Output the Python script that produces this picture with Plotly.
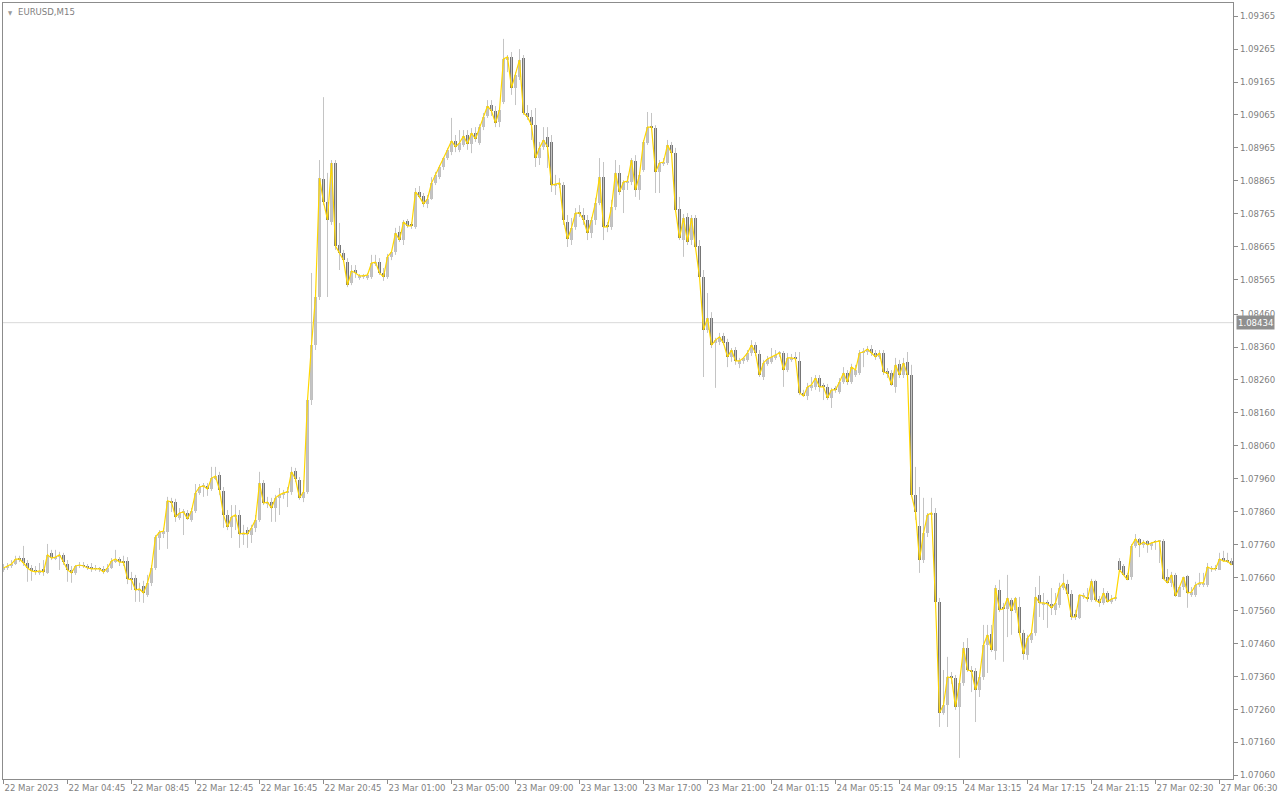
import plotly.graph_objects as go

# ---------------- data (EURUSD M15 candles) ----------------
opens = [
1.07683,1.07689,1.07695,1.07701,1.07716,1.07719,1.07704,1.07689,1.07680,1.07674,
1.07686,1.07674,1.07735,1.07719,1.07722,1.07729,1.07701,1.07683,1.07674,1.07695,
1.07698,1.07695,1.07692,1.07686,1.07686,1.07686,1.07677,1.07689,1.07710,1.07716,
1.07707,1.07710,1.07656,1.07659,1.07622,1.07634,1.07607,1.07644,1.07689,1.07780,
1.07795,1.07798,1.07889,1.07889,1.07841,1.07856,1.07856,1.07835,1.07862,1.07917,
1.07935,1.07938,1.07929,1.07962,1.07971,1.07923,1.07850,1.07813,1.07844,1.07850,
1.07792,1.07804,1.07789,1.07811,1.07835,1.07947,1.07886,1.07889,1.07871,1.07902,
1.07911,1.07917,1.07920,1.07984,1.07956,1.07902,1.07920,1.08199,1.08366,1.08512,
1.08870,1.08801,1.08740,1.08919,1.08670,1.08646,1.08618,1.08555,1.08594,1.08570,
1.08573,1.08570,1.08573,1.08615,1.08618,1.08585,1.08573,1.08634,1.08649,1.08709,
1.08685,1.08743,1.08728,1.08725,1.08831,1.08819,1.08795,1.08810,1.08858,1.08876,
1.08907,1.08934,1.08952,1.08986,1.08959,1.08974,1.09004,1.08977,1.09010,1.08980,
1.09028,1.09062,1.09095,1.09077,1.09043,1.09104,1.09232,1.09241,1.09147,1.09180,
1.09238,1.09071,1.09059,1.09034,1.08934,1.08968,1.08998,1.08983,1.08852,1.08855,
1.08852,1.08740,1.08685,1.08725,1.08767,1.08761,1.08746,1.08706,1.08746,1.08798,
1.08876,1.08725,1.08725,1.08785,1.08889,1.08837,1.08861,1.08861,1.08925,1.08837,
1.08898,1.08980,1.09028,1.09025,1.08892,1.08919,1.08919,1.08974,1.08949,1.08779,
1.08685,1.08755,1.08685,1.08752,1.08667,1.08573,1.08412,1.08448,1.08372,1.08375,
1.08394,1.08375,1.08330,1.08351,1.08309,1.08318,1.08321,1.08342,1.08366,1.08339,
1.08269,1.08309,1.08315,1.08327,1.08339,1.08342,1.08290,1.08321,1.08327,1.08318,
1.08221,1.08211,1.08236,1.08239,1.08266,1.08239,1.08239,1.08205,1.08230,1.08224,
1.08254,1.08281,1.08254,1.08275,1.08281,1.08342,1.08345,1.08354,1.08342,1.08330,
1.08342,1.08287,1.08281,1.08239,1.08309,1.08275,1.08315,1.08275,1.07911,1.07817,
1.07713,1.07795,1.07850,1.07856,1.07586,1.07249,1.07273,1.07358,1.07355,1.07267,
1.07340,1.07446,1.07379,1.07376,1.07319,1.07358,1.07455,1.07489,1.07437,1.07622,
1.07565,1.07565,1.07592,1.07562,1.07571,1.07492,1.07425,1.07470,1.07492,1.07607,
1.07577,1.07580,1.07580,1.07562,1.07577,1.07628,1.07641,1.07610,1.07549,1.07537,
1.07601,1.07595,1.07592,1.07650,1.07595,1.07583,1.07613,1.07586,1.07595,1.07710,
1.07695,1.07668,1.07662,1.07756,1.07777,1.07759,1.07771,1.07756,1.07768,1.07768,
1.07771,1.07662,1.07644,1.07668,1.07601,1.07631,1.07665,1.07607,1.07607,1.07637,
1.07637,1.07637,1.07686,1.07686,1.07683,1.07719,1.07710,1.07710]

highs = [
1.07701,1.07704,1.07713,1.07726,1.07726,1.07756,1.07713,1.07698,1.07695,1.07704,
1.07713,1.07762,1.07744,1.07744,1.07738,1.07735,1.07713,1.07695,1.07698,1.07707,
1.07707,1.07701,1.07704,1.07698,1.07692,1.07695,1.07701,1.07719,1.07744,1.07722,
1.07726,1.07722,1.07677,1.07668,1.07644,1.07650,1.07668,1.07698,1.07789,1.07804,
1.07811,1.07905,1.07902,1.07899,1.07871,1.07868,1.07865,1.07871,1.07944,1.07944,
1.07947,1.07947,1.07996,1.07996,1.07981,1.07935,1.07865,1.07880,1.07880,1.07865,
1.07820,1.07813,1.07820,1.07850,1.07981,1.07956,1.07905,1.07902,1.07911,1.07932,
1.07926,1.07935,1.07996,1.07993,1.07965,1.07956,1.08205,1.08585,1.08533,1.08928,
1.09119,1.08889,1.08928,1.08928,1.08737,1.08655,1.08630,1.08609,1.08609,1.08582,
1.08582,1.08585,1.08640,1.08640,1.08630,1.08600,1.08643,1.08652,1.08722,1.08728,
1.08746,1.08749,1.08740,1.08843,1.08849,1.08828,1.08822,1.08876,1.08892,1.08913,
1.08937,1.08965,1.09056,1.09004,1.09019,1.09019,1.09019,1.09025,1.09028,1.09037,
1.09071,1.09110,1.09110,1.09092,1.09086,1.09296,1.09247,1.09256,1.09195,1.09265,
1.09247,1.09095,1.09080,1.09086,1.08983,1.09028,1.09028,1.09004,1.08883,1.08873,
1.08861,1.08761,1.08752,1.08782,1.08791,1.08782,1.08761,1.08755,1.08813,1.08934,
1.08922,1.08740,1.08807,1.08928,1.08913,1.08867,1.08880,1.08934,1.08943,1.08892,
1.08989,1.09074,1.09071,1.09034,1.08928,1.08934,1.08989,1.08983,1.08965,1.08816,
1.08764,1.08767,1.08761,1.08761,1.08685,1.08594,1.08524,1.08466,1.08388,1.08403,
1.08403,1.08385,1.08357,1.08360,1.08327,1.08330,1.08351,1.08381,1.08375,1.08351,
1.08321,1.08333,1.08357,1.08351,1.08348,1.08348,1.08342,1.08339,1.08345,1.08345,
1.08230,1.08251,1.08269,1.08275,1.08275,1.08251,1.08248,1.08236,1.08242,1.08266,
1.08299,1.08290,1.08309,1.08306,1.08351,1.08357,1.08363,1.08366,1.08351,1.08351,
1.08351,1.08296,1.08290,1.08327,1.08321,1.08327,1.08345,1.08306,1.07996,1.07935,
1.07902,1.07856,1.07902,1.07871,1.07598,1.07379,1.07419,1.07373,1.07364,1.07340,
1.07464,1.07476,1.07391,1.07385,1.07364,1.07516,1.07516,1.07516,1.07637,1.07653,
1.07583,1.07668,1.07598,1.07601,1.07601,1.07501,1.07486,1.07501,1.07631,1.07665,
1.07613,1.07592,1.07628,1.07613,1.07644,1.07671,1.07653,1.07622,1.07562,1.07607,
1.07613,1.07628,1.07656,1.07653,1.07604,1.07628,1.07619,1.07607,1.07601,1.07719,
1.07701,1.07674,1.07762,1.07792,1.07780,1.07774,1.07774,1.07768,1.07774,1.07771,
1.07777,1.07686,1.07677,1.07674,1.07631,1.07662,1.07668,1.07631,1.07647,1.07674,
1.07674,1.07704,1.07695,1.07698,1.07735,1.07741,1.07735,1.07719]

lows = [
1.07677,1.07683,1.07689,1.07698,1.07707,1.07695,1.07647,1.07650,1.07668,1.07668,
1.07665,1.07671,1.07713,1.07713,1.07683,1.07698,1.07647,1.07644,1.07668,1.07689,
1.07689,1.07683,1.07677,1.07680,1.07677,1.07671,1.07674,1.07686,1.07704,1.07695,
1.07695,1.07640,1.07622,1.07586,1.07586,1.07583,1.07601,1.07634,1.07683,1.07744,
1.07780,1.07747,1.07859,1.07829,1.07835,1.07789,1.07835,1.07829,1.07856,1.07911,
1.07905,1.07908,1.07923,1.07956,1.07911,1.07811,1.07804,1.07780,1.07804,1.07750,
1.07759,1.07750,1.07765,1.07798,1.07829,1.07880,1.07871,1.07829,1.07829,1.07850,
1.07899,1.07874,1.07911,1.07950,1.07896,1.07889,1.07914,1.08184,1.08351,1.08503,
1.08791,1.08512,1.08731,1.08655,1.08594,1.08618,1.08542,1.08548,1.08570,1.08564,
1.08567,1.08564,1.08567,1.08606,1.08579,1.08561,1.08567,1.08624,1.08640,1.08679,
1.08670,1.08722,1.08719,1.08719,1.08813,1.08785,1.08782,1.08807,1.08852,1.08870,
1.08898,1.08928,1.08943,1.08952,1.08952,1.08968,1.08959,1.08949,1.08983,1.08974,
1.09019,1.09056,1.09062,1.09028,1.09028,1.09098,1.09195,1.09126,1.09095,1.09171,
1.09065,1.09050,1.08989,1.08907,1.08913,1.08959,1.08904,1.08831,1.08822,1.08843,
1.08731,1.08664,1.08670,1.08716,1.08755,1.08731,1.08685,1.08691,1.08731,1.08791,
1.08685,1.08709,1.08716,1.08776,1.08822,1.08767,1.08837,1.08852,1.08816,1.08807,
1.08892,1.08974,1.09019,1.08828,1.08828,1.08910,1.08913,1.08943,1.08770,1.08685,
1.08634,1.08670,1.08670,1.08658,1.08570,1.08269,1.08403,1.08357,1.08236,1.08366,
1.08366,1.08299,1.08315,1.08306,1.08296,1.08309,1.08315,1.08333,1.08333,1.08269,
1.08260,1.08303,1.08309,1.08321,1.08330,1.08239,1.08284,1.08315,1.08318,1.08214,
1.08211,1.08199,1.08227,1.08230,1.08224,1.08199,1.08199,1.08175,1.08221,1.08218,
1.08248,1.08245,1.08248,1.08269,1.08275,1.08299,1.08336,1.08333,1.08321,1.08324,
1.08275,1.08266,1.08242,1.08221,1.08266,1.08266,1.08266,1.07905,1.07835,1.07674,
1.07704,1.07783,1.07835,1.07577,1.07206,1.07243,1.07206,1.07337,1.07258,1.07112,
1.07331,1.07373,1.07312,1.07221,1.07297,1.07349,1.07370,1.07434,1.07410,1.07555,
1.07404,1.07479,1.07486,1.07552,1.07486,1.07410,1.07410,1.07461,1.07483,1.07540,
1.07531,1.07507,1.07546,1.07546,1.07568,1.07622,1.07604,1.07531,1.07531,1.07534,
1.07595,1.07586,1.07586,1.07586,1.07571,1.07577,1.07586,1.07580,1.07589,1.07683,
1.07668,1.07653,1.07653,1.07750,1.07722,1.07750,1.07735,1.07744,1.07744,1.07704,
1.07656,1.07644,1.07631,1.07601,1.07601,1.07622,1.07568,1.07601,1.07601,1.07631,
1.07631,1.07631,1.07677,1.07680,1.07683,1.07707,1.07704,1.07698]

closes = [
1.07689,1.07695,1.07701,1.07716,1.07716,1.07704,1.07689,1.07680,1.07677,1.07680,
1.07677,1.07729,1.07719,1.07722,1.07729,1.07707,1.07683,1.07674,1.07695,1.07698,
1.07695,1.07689,1.07686,1.07686,1.07686,1.07677,1.07689,1.07710,1.07716,1.07707,
1.07707,1.07656,1.07653,1.07622,1.07625,1.07613,1.07644,1.07689,1.07783,1.07798,
1.07801,1.07893,1.07889,1.07844,1.07856,1.07859,1.07838,1.07862,1.07917,1.07935,
1.07938,1.07929,1.07962,1.07968,1.07926,1.07850,1.07813,1.07844,1.07850,1.07792,
1.07795,1.07792,1.07811,1.07835,1.07947,1.07886,1.07889,1.07871,1.07902,1.07911,
1.07917,1.07920,1.07981,1.07959,1.07902,1.07920,1.08199,1.08366,1.08512,1.08873,
1.08801,1.08746,1.08919,1.08667,1.08646,1.08624,1.08548,1.08591,1.08585,1.08576,
1.08576,1.08579,1.08615,1.08618,1.08585,1.08573,1.08634,1.08649,1.08706,1.08685,
1.08740,1.08728,1.08728,1.08831,1.08816,1.08795,1.08810,1.08858,1.08883,1.08907,
1.08934,1.08959,1.08986,1.08968,1.08980,1.09001,1.08977,1.09010,1.08992,1.09028,
1.09059,1.09092,1.09077,1.09040,1.09080,1.09235,1.09241,1.09147,1.09186,1.09232,
1.09071,1.09059,1.09034,1.08934,1.08965,1.08989,1.08968,1.08852,1.08855,1.08858,
1.08746,1.08688,1.08722,1.08767,1.08767,1.08746,1.08706,1.08746,1.08798,1.08876,
1.08725,1.08725,1.08785,1.08889,1.08831,1.08861,1.08864,1.08928,1.08837,1.08883,
1.08983,1.09028,1.09028,1.08892,1.08919,1.08922,1.08974,1.08949,1.08776,1.08691,
1.08752,1.08679,1.08752,1.08664,1.08573,1.08412,1.08448,1.08366,1.08381,1.08391,
1.08372,1.08330,1.08351,1.08318,1.08318,1.08327,1.08342,1.08366,1.08342,1.08275,
1.08312,1.08324,1.08330,1.08336,1.08342,1.08290,1.08327,1.08327,1.08324,1.08221,
1.08211,1.08239,1.08245,1.08266,1.08239,1.08239,1.08205,1.08230,1.08230,1.08254,
1.08281,1.08254,1.08299,1.08290,1.08342,1.08345,1.08354,1.08342,1.08330,1.08342,
1.08284,1.08281,1.08245,1.08306,1.08275,1.08312,1.08275,1.07911,1.07859,1.07713,
1.07795,1.07850,1.07856,1.07586,1.07249,1.07273,1.07358,1.07355,1.07267,1.07340,
1.07446,1.07379,1.07376,1.07319,1.07358,1.07455,1.07486,1.07440,1.07628,1.07562,
1.07565,1.07598,1.07559,1.07598,1.07492,1.07428,1.07476,1.07492,1.07601,1.07583,
1.07583,1.07580,1.07568,1.07583,1.07628,1.07644,1.07610,1.07540,1.07540,1.07607,
1.07604,1.07595,1.07650,1.07592,1.07583,1.07613,1.07586,1.07595,1.07598,1.07683,
1.07668,1.07653,1.07756,1.07777,1.07759,1.07768,1.07759,1.07765,1.07768,1.07771,
1.07656,1.07644,1.07668,1.07604,1.07631,1.07662,1.07613,1.07616,1.07637,1.07644,
1.07644,1.07692,1.07686,1.07686,1.07716,1.07710,1.07710,1.07698]

time_labels = ["22 Mar 2023", "22 Mar 04:45", "22 Mar 08:45", "22 Mar 12:45",
               "22 Mar 16:45", "22 Mar 20:45", "23 Mar 01:00", "23 Mar 05:00",
               "23 Mar 09:00", "23 Mar 13:00", "23 Mar 17:00", "23 Mar 21:00",
               "24 Mar 01:15", "24 Mar 05:15", "24 Mar 09:15", "24 Mar 13:15",
               "24 Mar 17:15", "24 Mar 21:15", "27 Mar 02:30", "27 Mar 06:30"]
time_label_bars = [0, 16, 32, 48, 64, 80, 96, 112, 128, 144, 160, 176,
                   192, 208, 224, 240, 256, 272, 288, 304]

price_labels = ["1.09365", "1.09265", "1.09165", "1.09065", "1.08965", "1.08865",
                "1.08765", "1.08665", "1.08565", "1.08460", "1.08360", "1.08260",
                "1.08160", "1.08060", "1.07960", "1.07860", "1.07760", "1.07660",
                "1.07560", "1.07460", "1.07360", "1.07260", "1.07160", "1.07060"]

price_line = 1.08434
symbol_text = "EURUSD,M15"

# ---------------- styling ----------------
FONT = "DejaVu Sans Condensed, Liberation Sans, sans-serif"
TXT = "#7f7f7f"
AXIS = "#8c8c8c"
BULL = "#c0c0c0"
BEAR = "#767676"
WICK = "#c4c4c4"
LINE = "#ffd700"

n = len(closes)
idx = list(range(n))

wx, wy = [], []
for i in idx:
    hi = max(highs[i], opens[i], closes[i])
    lo = min(lows[i], opens[i], closes[i])
    wx += [i, i, None]
    wy += [lo, hi, None]

base = [min(o, c) for o, c in zip(opens, closes)]
height = [max(abs(c - o), 0.000028) for o, c in zip(opens, closes)]
colors = [BULL if c > o else BEAR for o, c in zip(opens, closes)]

fig = go.Figure()
fig.add_trace(go.Scatter(x=wx, y=wy, mode="lines",
                         line=dict(color=WICK, width=1),
                         hoverinfo="skip", showlegend=False))
fig.add_trace(go.Bar(x=idx, y=height, base=base, width=0.75,
                     marker=dict(color=colors, line=dict(width=0)),
                     hoverinfo="skip", showlegend=False))
fig.add_trace(go.Scatter(x=idx, y=closes, mode="lines",
                         line=dict(color=LINE, width=1.2),
                         hoverinfo="skip", showlegend=False))

fig.add_shape(type="line", xref="paper", x0=0, x1=1, yref="y",
              y0=price_line, y1=price_line,
              line=dict(color="#d9d9d9", width=1), layer="below")

fig.add_annotation(xref="paper", x=1, xanchor="left", xshift=3,
                   yref="y", y=price_line, yanchor="middle",
                   text=f"{price_line:.5f}", showarrow=False,
                   bgcolor="#8f8f8f", borderpad=1,
                   font=dict(family=FONT, size=9.5, color="#ffffff"))

fig.add_annotation(xref="paper", yref="paper", x=0, y=1, xanchor="left",
                   yanchor="top", xshift=3, yshift=-4, text="▼",
                   showarrow=False, font=dict(family=FONT, size=6, color="#9a9a9a"))
fig.add_annotation(xref="paper", yref="paper", x=0, y=1, xanchor="left",
                   yanchor="top", xshift=13, yshift=-1, text=symbol_text,
                   showarrow=False, font=dict(family=FONT, size=9.5, color=TXT))

fig.update_layout(
    width=1280, height=800,
    margin=dict(l=3, r=47, t=3, b=21, autoexpand=False),
    paper_bgcolor="white", plot_bgcolor="white",
    barmode="overlay", bargap=0, showlegend=False,
    hovermode=False,
    font=dict(family=FONT, size=9.5, color=TXT),
    xaxis=dict(range=[-0.125, 307.375], tickmode="array",
               tickvals=time_label_bars, ticktext=time_labels,
               tickangle=0, automargin=False,
               ticks="outside", ticklen=4, tickcolor=AXIS,
               ticklabelposition="outside right", ticklabeloverflow="allow",
               showline=True, linecolor=AXIS, linewidth=1, mirror=True,
               showgrid=False, zeroline=False, fixedrange=True,
               tickfont=dict(family=FONT, size=9.5, color=TXT)),
    yaxis=dict(range=[1.07048, 1.09405], side="right", tickmode="array",
               tickvals=[float(t) for t in price_labels], ticktext=price_labels,
               automargin=False,
               ticks="outside", ticklen=4, tickcolor=AXIS,
               showline=True, linecolor=AXIS, linewidth=1, mirror=True,
               showgrid=False, zeroline=False, fixedrange=True,
               tickfont=dict(family=FONT, size=9.5, color=TXT)),
)

fig.write_html("out.html", config={"displayModeBar": False},
               post_script="document.body.style.margin='0';")
